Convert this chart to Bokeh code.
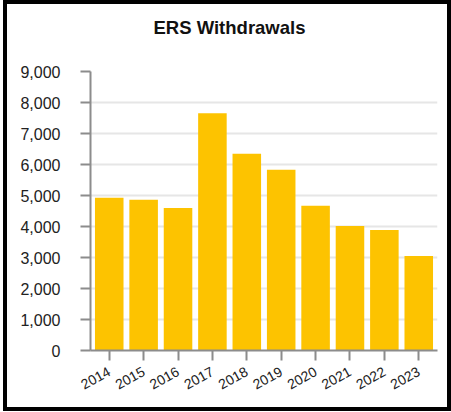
from bokeh.plotting import figure
from bokeh.models import FactorRange, Range1d, FixedTicker, NumeralTickFormatter, Title
from bokeh.embed import file_html
from bokeh.resources import INLINE

years = ["2014", "2015", "2016", "2017", "2018", "2019", "2020", "2021", "2022", "2023"]
withdrawals = [4930, 4860, 4600, 7650, 6350, 5830, 4670, 4020, 3890, 3050]
y_ticks = [0, 1000, 2000, 3000, 4000, 5000, 6000, 7000, 8000, 9000]
title_text = "ERS Withdrawals"

FONT = "Liberation Sans"

p = figure(
    title=None,
    x_range=FactorRange(*years, range_padding=0.009),
    y_range=Range1d(0, 9000),
    width=448, height=411,
    output_backend="svg", toolbar_location=None,
    min_border_left=83, min_border_right=18,
    min_border_top=67, min_border_bottom=65,
    styles={"border": "4px solid black", "margin-left": "3px"},
)

# spacer panel between the title and the plot frame
spacer = Title(text=" ", text_font_size="1px", standoff=17)
p.add_layout(spacer, "above")

main_title = Title(text=title_text, align="left", offset=63, vertical_align="top",
                   standoff=24, text_font=FONT, text_font_style="bold",
                   text_font_size="18.5px", text_color="#111111")
p.add_layout(main_title, "above")

p.vbar(x=years, top=withdrawals, width=0.83, color="#FDC300", line_color=None)

p.outline_line_color = None
p.xgrid.grid_line_color = None
p.ygrid.grid_line_color = "#e6e6e6"
p.ygrid.grid_line_width = 2

for ax in (p.xaxis[0], p.yaxis[0]):
    ax.axis_line_color = "#8c8c8c"
    ax.axis_line_width = 2
    ax.major_tick_line_color = "#8c8c8c"
    ax.major_tick_line_width = 2
    ax.major_tick_out = 10
    ax.major_tick_in = 0
    ax.minor_tick_line_color = None
    ax.major_label_text_font = FONT
    ax.major_label_text_color = "#222222"

p.yaxis.ticker = FixedTicker(ticks=y_ticks)
p.yaxis.formatter = NumeralTickFormatter(format="0,0")
p.yaxis.major_label_text_font_size = "16px"
p.yaxis.major_label_standoff = 20

p.xaxis.major_label_text_font_size = "14px"
p.xaxis.major_label_orientation = 0.5
p.xaxis.major_label_standoff = 10

open("out.html", "w").write(file_html(p, INLINE))
